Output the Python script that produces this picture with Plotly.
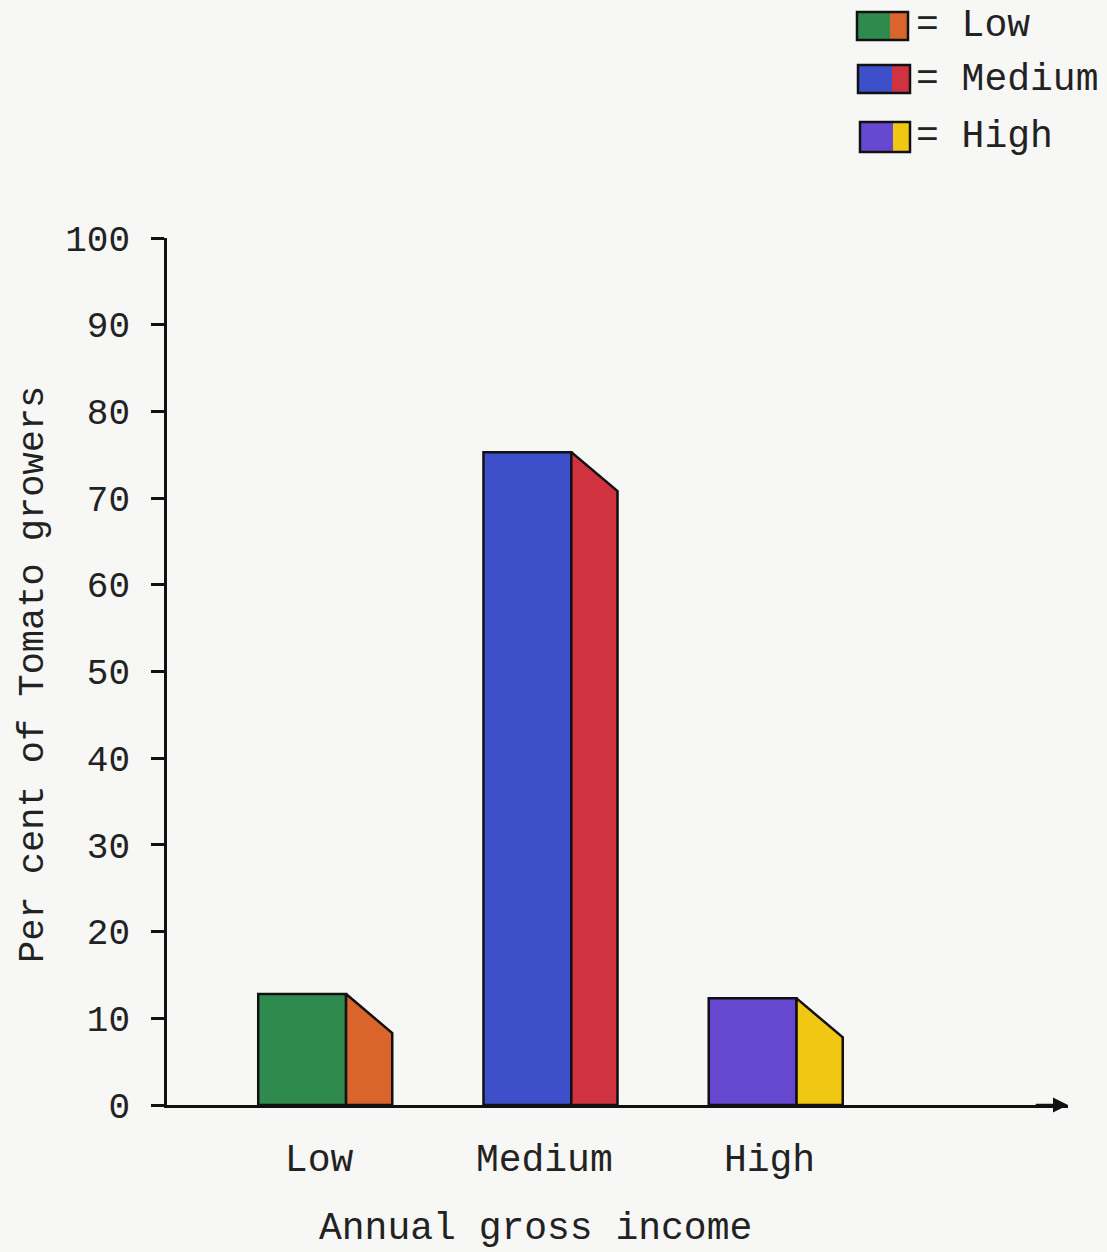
import plotly.graph_objects as go

# ---- data ----
categories = ["Low", "Medium", "High"]
values = [12.8, 75.3, 12.3]
front_colors = ["#2f8a4e", "#3d4fc9", "#6548cf"]
side_colors = ["#d9642c", "#d1323f", "#f0c814"]
legend_labels = ["= Low", "= Medium", "= High"]
y_ticks = [0, 10, 20, 30, 40, 50, 60, 70, 80, 90, 100]

# ---- layout constants ----
W, H = 1107, 1252
L, R, T, B = 167, 39, 238, 147
PW, PH = W - L - R, H - T - B
XMAX = 4.0
BAR_W = 0.39
SIDE_D = 0.205
SIDE_DROP = 4.5
FONT = "Liberation Mono, Courier New, monospace"
BG = "#f7f7f5"

def pxx(px):
    return (px - L) / PW

def pxy(py):
    return (H - B - py) / PH

xs = [i + 0.6 for i in range(len(categories))]

fig = go.Figure()
fig.add_trace(go.Bar(
    x=xs, y=values, width=BAR_W,
    marker=dict(color=front_colors, line=dict(color="#111", width=2.5)),
    showlegend=False, hoverinfo="skip"))

for x, v, c in zip(xs, values, side_colors):
    x0 = x + BAR_W / 2
    x1 = x0 + SIDE_D
    fig.add_trace(go.Scatter(
        x=[x0, x0, x1, x1, x0], y=[0, v, v - SIDE_DROP, 0, 0],
        mode="lines", fill="toself", fillcolor=c,
        line=dict(color="#111", width=2.5),
        showlegend=False, hoverinfo="skip"))

# legend (hand drawn style)
shapes = []
annotations = []
leg_rows = [(12, 40, 857, 890, 908), (65, 93, 858, 892, 910), (122, 152, 860, 893, 910)]
for (y0, y1, xa, xb, xc), fc, sc, lab in zip(leg_rows, front_colors, side_colors, legend_labels):
    shapes.append(dict(type="rect", xref="paper", yref="paper",
                       x0=pxx(xa), x1=pxx(xb), y0=pxy(y1), y1=pxy(y0),
                       fillcolor=fc, line=dict(width=0)))
    shapes.append(dict(type="rect", xref="paper", yref="paper",
                       x0=pxx(xb), x1=pxx(xc), y0=pxy(y1), y1=pxy(y0),
                       fillcolor=sc, line=dict(width=0)))
    shapes.append(dict(type="rect", xref="paper", yref="paper",
                       x0=pxx(xa), x1=pxx(xc), y0=pxy(y1), y1=pxy(y0),
                       fillcolor="rgba(0,0,0,0)", line=dict(color="#111", width=2.5)))
    annotations.append(dict(xref="paper", yref="paper", x=pxx(914), y=pxy((y0 + y1) / 2),
                            text=lab, showarrow=False, xanchor="left", yanchor="middle",
                            font=dict(family=FONT, size=38, color="#222")))

# axis titles
annotations.append(dict(xref="paper", yref="paper", x=pxx(535), y=pxy(1228),
                        text="Annual gross income", showarrow=False,
                        xanchor="center", yanchor="middle",
                        font=dict(family=FONT, size=38, color="#222")))
annotations.append(dict(xref="paper", yref="paper", x=pxx(33), y=pxy(675),
                        text="Per cent of Tomato growers", showarrow=False, textangle=-90,
                        xanchor="center", yanchor="middle",
                        font=dict(family=FONT, size=37, color="#222")))
# arrow at end of x axis
annotations.append(dict(x=XMAX, y=0, ax=XMAX - 0.15, ay=0, xref="x", yref="y",
                        axref="x", ayref="y", showarrow=True, arrowhead=2,
                        arrowsize=1.2, arrowwidth=2.5, arrowcolor="#111", text=""))

fig.update_layout(
    width=W, height=H,
    margin=dict(l=L, r=R, t=T, b=B, autoexpand=False),
    paper_bgcolor=BG, plot_bgcolor=BG,
    shapes=shapes, annotations=annotations,
    xaxis=dict(range=[0, XMAX], showgrid=False, zeroline=False,
               showline=True, linecolor="#111", linewidth=2.5,
               tickvals=[x + 0.075 for x in xs], ticktext=categories, ticks="",
               ticklabelstandoff=18,
               tickfont=dict(family=FONT, size=38, color="#222")),
    yaxis=dict(range=[0, 100], showgrid=False, zeroline=False,
               showline=True, linecolor="#111", linewidth=2.5,
               tickvals=y_ticks, ticks="outside", ticklen=13, tickwidth=2.5,
               tickcolor="#111", ticklabelstandoff=14,
               tickfont=dict(family=FONT, size=36, color="#222")),
)

fig.write_html("out.html")
